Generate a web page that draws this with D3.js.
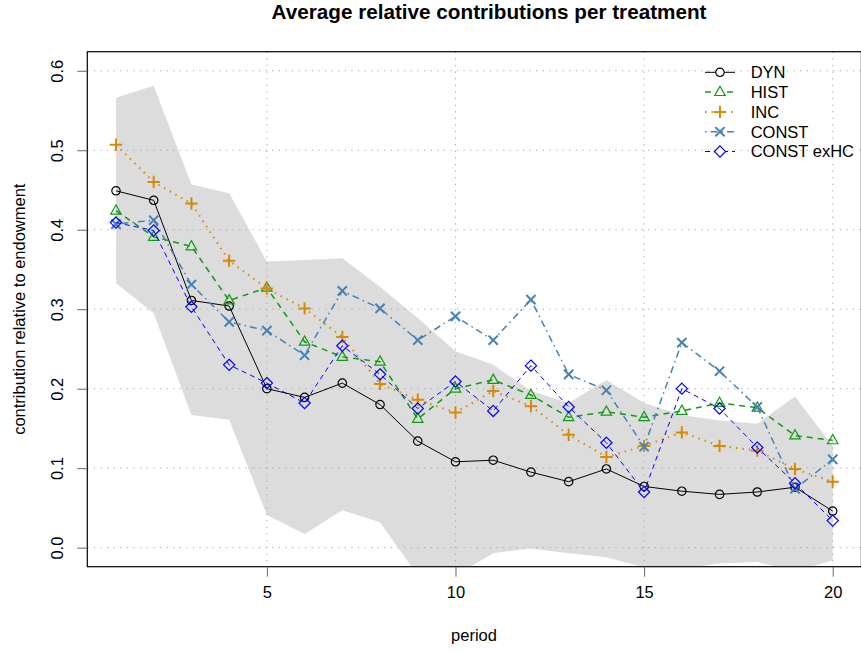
<!DOCTYPE html>
<html>
<head>
<meta charset="utf-8">
<script src="https://cdn.jsdelivr.net/npm/d3@7"></script>
<style>
  body { margin: 0; background: #fff; }
  svg { font-family: "Liberation Sans", Arial, Helvetica, sans-serif; }
</style>
</head>
<body>
<svg id="chart" width="861" height="653"></svg>
<script>
// data
var periods = d3.range(1, 21);
var dyn   = [0.449,0.437,0.311,0.304,0.200,0.189,0.207,0.180,0.134,0.108,0.110,0.095,0.083,0.099,0.077,0.071,0.067,0.070,0.076,0.046];
var hist  = [0.424,0.391,0.379,0.311,0.327,0.259,0.240,0.234,0.162,0.200,0.211,0.192,0.164,0.171,0.164,0.172,0.182,0.176,0.141,0.135];
var inc   = [0.507,0.460,0.433,0.361,0.326,0.301,0.265,0.206,0.186,0.170,0.197,0.178,0.142,0.114,0.128,0.145,0.128,0.122,0.099,0.083];
var cnst  = [0.407,0.412,0.331,0.284,0.273,0.242,0.323,0.301,0.261,0.291,0.261,0.312,0.218,0.198,0.127,0.258,0.222,0.177,0.074,0.111];
var exhc  = [0.409,0.399,0.303,0.230,0.207,0.182,0.254,0.218,0.175,0.209,0.172,0.229,0.177,0.132,0.070,0.200,0.175,0.126,0.081,0.034];
var bandUpper = [0.566,0.581,0.457,0.446,0.360,0.362,0.364,0.328,0.289,0.247,0.230,0.197,0.182,0.211,0.182,0.167,0.160,0.156,0.190,0.128];
var bandLower = [0.333,0.295,0.167,0.161,0.041,0.017,0.047,0.032,-0.035,-0.035,-0.007,-0.001,-0.007,-0.012,-0.025,-0.027,-0.020,-0.018,-0.030,-0.016];
var yTicks = [0, 0.1, 0.2, 0.3, 0.4, 0.5, 0.6];
var xTicks = [5, 10, 15, 20];
var seriesNames = ["DYN", "HIST", "INC", "CONST", "CONST exHC"];

var series = [
  {name: seriesNames[0], values: dyn,  color: "#000000", dash: null,          width: 1,   shape: "circle"},
  {name: seriesNames[1], values: hist, color: "#109a10", dash: "6,5",         width: 1.5, shape: "triangle"},
  {name: seriesNames[2], values: inc,  color: "#d58a0a", dash: "1.5,5",       width: 2,   shape: "plus"},
  {name: seriesNames[3], values: cnst, color: "#4682b4", dash: "1.5,4,7,4",   width: 1.5, shape: "cross"},
  {name: seriesNames[4], values: exhc, color: "#0000ff", dash: "5,4",         width: 1,   shape: "diamond"}
];

var shapes = {
  circle:   "M4.2,0A4.2,4.2 0 1,1 -4.2,0A4.2,4.2 0 1,1 4.2,0Z",
  triangle: "M0,-5.8L5.2,3.4L-5.2,3.4Z",
  plus:     "M-6.2,0H6.2M0,-6.2V6.2",
  cross:    "M-4.6,-4.6L4.6,4.6M-4.6,4.6L4.6,-4.6",
  diamond:  "M0,-5.6L5.6,0L0,5.6L-5.6,0Z"
};

var svg = d3.select("#chart");
var plotLeft = 87.3, plotRight = 861.4, plotTop = 51.7, plotBottom = 566.7;

var x = d3.scaleLinear().domain([0.24, 20.76]).range([plotLeft, plotRight]);
var y = d3.scaleLinear().domain([-0.024, 0.624]).range([plotBottom, plotTop]);

svg.append("defs").append("clipPath").attr("id", "plotclip")
  .append("rect").attr("x", plotLeft).attr("y", plotTop)
  .attr("width", plotRight - plotLeft).attr("height", plotBottom - plotTop);

var plot = svg.append("g").attr("clip-path", "url(#plotclip)");

// min/max band
var area = d3.area()
  .x(function(d, i) { return x(periods[i]); })
  .y0(function(d, i) { return y(bandLower[i]); })
  .y1(function(d) { return y(d); });
plot.append("path").datum(bandUpper)
  .attr("d", area).attr("fill", "#dcdcdc");

// grid
plot.selectAll(".hgrid").data(yTicks).enter().append("line")
  .attr("x1", plotLeft).attr("x2", plotRight)
  .attr("y1", function(d) { return y(d); }).attr("y2", function(d) { return y(d); })
  .attr("stroke", "#aaaaaa").attr("stroke-dasharray", "1.3,5.3");
plot.selectAll(".vgrid").data(xTicks).enter().append("line")
  .attr("y1", plotTop).attr("y2", plotBottom)
  .attr("x1", function(d) { return x(d); }).attr("x2", function(d) { return x(d); })
  .attr("stroke", "#aaaaaa").attr("stroke-dasharray", "1.3,5.3");

// lines + points
var line = d3.line()
  .x(function(d, i) { return x(periods[i]); })
  .y(function(d) { return y(d); });

series.forEach(function(s) {
  plot.append("path").datum(s.values)
    .attr("d", line)
    .attr("fill", "none")
    .attr("stroke", s.color)
    .attr("stroke-width", s.width)
    .attr("stroke-dasharray", s.dash);
  plot.selectAll(null).data(s.values).enter().append("path")
    .attr("transform", function(d, i) { return "translate(" + x(periods[i]) + "," + y(d) + ")"; })
    .attr("d", shapes[s.shape])
    .attr("fill", "none")
    .attr("stroke", s.color)
    .attr("stroke-width", s.shape == "plus" || s.shape == "cross" ? 2 : 1.2);
});

// box
svg.append("rect")
  .attr("x", plotLeft).attr("y", plotTop)
  .attr("width", plotRight - plotLeft).attr("height", plotBottom - plotTop)
  .attr("fill", "none").attr("stroke", "#000").attr("stroke-width", 1.2);

// axes
var xAxis = svg.append("g")
  .attr("transform", "translate(0," + plotBottom + ")")
  .call(d3.axisBottom(x).tickValues(xTicks).tickSize(10).tickPadding(10).tickFormat(d3.format("d")));
xAxis.select(".domain").remove();
xAxis.selectAll(".tick line").attr("stroke", "#666");
xAxis.selectAll("text").attr("font-size", "16.5px").attr("fill", "#000")
  .attr("font-family", "Liberation Sans, Arial, sans-serif");

var yAxis = svg.append("g")
  .attr("transform", "translate(" + plotLeft + ",0)")
  .call(d3.axisLeft(y).tickValues(yTicks).tickSize(10).tickFormat(d3.format(".1f")));
yAxis.select(".domain").remove();
yAxis.selectAll(".tick line").attr("stroke", "#666");
yAxis.selectAll("text")
  .attr("font-size", "16.5px").attr("fill", "#000")
  .attr("font-family", "Liberation Sans, Arial, sans-serif")
  .attr("text-anchor", "middle")
  .attr("x", -30).attr("dy", "0.35em")
  .attr("transform", "rotate(-90,-30,0)");

// titles
svg.append("text")
  .attr("x", 489).attr("y", 19)
  .attr("text-anchor", "middle")
  .attr("font-size", "20.7px").attr("font-weight", "bold")
  .text("Average relative contributions per treatment");

svg.append("text")
  .attr("x", 474).attr("y", 641)
  .attr("text-anchor", "middle")
  .attr("font-size", "16.5px")
  .text("period");

svg.append("text")
  .attr("transform", "translate(25," + ((plotTop + plotBottom) / 2) + ") rotate(-90)")
  .attr("text-anchor", "middle")
  .attr("font-size", "16.5px")
  .text("contribution relative to endowment");

// legend
var legend = svg.append("g");
var rows = legend.selectAll("g").data(series).enter().append("g")
  .attr("transform", function(d, i) { return "translate(705," + (72.3 + i * 19.8) + ")"; });
rows.append("line")
  .attr("x1", 0).attr("x2", 30).attr("y1", 0).attr("y2", 0)
  .attr("stroke", function(d) { return d.color; })
  .attr("stroke-width", function(d) { return d.width; })
  .attr("stroke-dasharray", function(d) { return d.dash; });
rows.append("path")
  .attr("transform", "translate(15,0)")
  .attr("d", function(d) { return shapes[d.shape]; })
  .attr("fill", "#fff")
  .attr("stroke", function(d) { return d.color; })
  .attr("stroke-width", function(d) { return d.shape == "plus" || d.shape == "cross" ? 2 : 1.2; });
rows.append("text")
  .attr("x", 45.7).attr("dy", "0.36em")
  .attr("font-size", "16.5px")
  .text(function(d) { return d.name; });
</script>
</body>
</html>
